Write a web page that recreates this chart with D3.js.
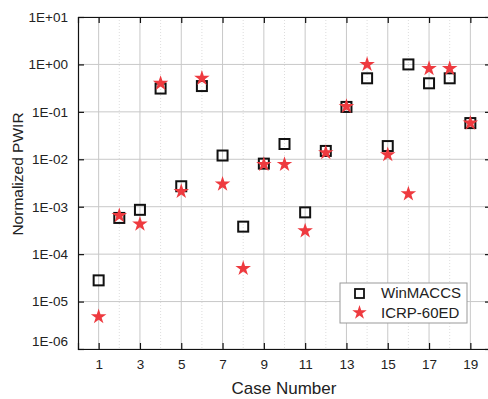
<!DOCTYPE html>
<html><head><meta charset="utf-8">
<script src="https://cdn.jsdelivr.net/npm/d3@7"></script>
<style>body{margin:0;background:#fff}svg{display:block}</style>
</head><body>
<script>
const cases = [1,2,3,4,5,6,7,8,9,10,11,12,13,14,15,16,17,18,19];
const winMACCS = [2.8e-5,5.8e-4,8.6e-4,0.31,2.7e-3,0.35,0.012,3.8e-4,8.1e-3,0.021,7.6e-4,0.015,0.127,0.51,0.019,1.0,0.40,0.51,0.058];
const icrp60ED = [4.8e-6,6.5e-4,4.3e-4,0.40,2.1e-3,0.51,3.0e-3,5.0e-5,7.8e-3,7.8e-3,3.1e-4,0.0138,0.13,1.0,0.0125,1.87e-3,0.82,0.82,0.058];
const yTicks = [1e-6,1e-5,1e-4,1e-3,1e-2,1e-1,1,10];
const yTickLabels = ["1E-06","1E-05","1E-04","1E-03","1E-02","1E-01","1E+00","1E+01"];
const xTicks = [1,3,5,7,9,11,13,15,17,19];
const xMinor = [2,4,6,8,10,12,14,16,18];
const seriesNames = ["WinMACCS","ICRP-60ED"];

const W=488,H=399;
const L=78,T=17,R=491,B=349;
const font = "'Liberation Sans', Arial, sans-serif";
const svg = d3.select("body").append("svg").attr("width",W).attr("height",H);
const x = d3.scaleLinear().domain([0,20]).range([L,R]);
const y = d3.scaleLog().domain([1e-6,10]).range([B,T]);

// grid
const g = svg.append("g");
g.selectAll(".vx").data(xMinor).join("line")
  .attr("x1",d=>x(d)).attr("x2",d=>x(d)).attr("y1",T).attr("y2",B)
  .attr("stroke","#d4d4d4").attr("stroke-width",0.8).attr("stroke-dasharray","1,2");
g.selectAll(".vX").data(xTicks).join("line")
  .attr("x1",d=>x(d)).attr("x2",d=>x(d)).attr("y1",T).attr("y2",B)
  .attr("stroke","#c8c8c8").attr("stroke-width",1);
g.selectAll(".hy").data(yTicks).join("line")
  .attr("x1",L).attr("x2",R).attr("y1",d=>y(d)).attr("y2",d=>y(d))
  .attr("stroke","#c8c8c8").attr("stroke-width",1);

// axes (inward ticks, mirrored)
const ax = svg.append("g");
ax.append("g").attr("transform",`translate(0,${B})`)
  .call(d3.axisBottom(x).tickValues(xTicks).tickSize(-6).tickPadding(10).tickFormat(d3.format("d")));
ax.append("g").attr("transform",`translate(0,${T})`)
  .call(d3.axisTop(x).tickValues(xTicks).tickSize(-6).tickFormat(""));
ax.append("g").attr("transform",`translate(${L},0)`)
  .call(d3.axisLeft(y).tickValues(yTicks).tickSize(-6).tickPadding(10).tickFormat((d,i)=>yTickLabels[i]));
ax.append("g").attr("transform",`translate(${R},0)`)
  .call(d3.axisRight(y).tickValues(yTicks).tickSize(-6).tickFormat(""));
ax.selectAll(".domain").attr("stroke","#111").attr("stroke-width",1.2);
ax.selectAll(".tick line").attr("stroke","#111").attr("stroke-width",1.2);
ax.selectAll(".tick text").attr("font-family",font).attr("font-size","13.5px").attr("fill","#222");
svg.selectAll(".tick").filter(d=>d===1e-6).select("text").attr("dy","-0.25em");

// axis titles
svg.append("text").attr("x",284).attr("y",394).attr("text-anchor","middle")
  .attr("font-family",font).attr("font-size","17px").attr("fill","#222").text("Case Number");
svg.append("text").attr("transform","translate(23,174) rotate(-90)").attr("text-anchor","middle")
  .attr("font-family",font).attr("font-size","15.5px").attr("fill","#222").text("Normalized PWIR");

// data: squares first, stars on top
const star = d3.symbol().type(d3.symbolStar).size(75);
const red = "#ee3a3f";
svg.append("g").selectAll("rect").data(cases).join("rect")
  .attr("x",d=>x(d)-5).attr("y",(d,i)=>y(winMACCS[i])-5).attr("width",10).attr("height",10)
  .attr("fill","none").attr("stroke","#111").attr("stroke-width",2);
svg.append("g").selectAll("path").data(cases).join("path")
  .attr("d",star).attr("transform",(d,i)=>`translate(${x(d)},${y(icrp60ED[i])})`)
  .attr("fill",red);

// legend
const lg = svg.append("g");
lg.append("rect").attr("x",340).attr("y",283).attr("width",127).attr("height",40)
  .attr("fill","#fff").attr("stroke","#999").attr("stroke-width",1);
lg.append("rect").attr("x",355).attr("y",289).attr("width",9).attr("height",9)
  .attr("fill","none").attr("stroke","#111").attr("stroke-width",1.8);
lg.append("path").attr("d",d3.symbol().type(d3.symbolStar).size(65)).attr("transform","translate(359.5,312.5)").attr("fill",red);
lg.append("text").attr("x",381).attr("y",298).attr("font-family",font).attr("font-size","15px").attr("fill","#222").text(seriesNames[0]);
lg.append("text").attr("x",381).attr("y",318).attr("font-family",font).attr("font-size","15px").attr("fill","#222").text(seriesNames[1]);
</script>
</body></html>
